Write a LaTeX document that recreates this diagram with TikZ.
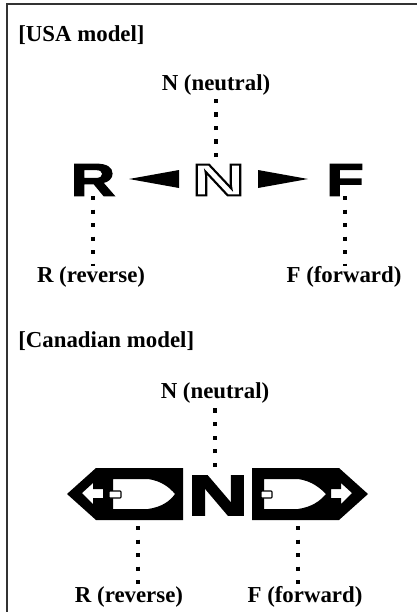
\documentclass[tikz,border=0pt]{standalone}
\usepackage{fontspec}
\setmainfont{Liberation Serif}
\newfontfamily\heavyfont[FakeBold=3,FakeStretch=1.35]{Liberation Sans Bold}
\newfontfamily\widefont[FakeBold=4,FakeStretch=1.5]{Liberation Sans Bold}
\newfontfamily\outlinefont[FakeStretch=1.65]{Liberation Sans Bold}
\tikzset{
  caption/.style={font=\fontsize{13}{15}\selectfont\bfseries,inner sep=0pt},
  heading/.style={caption,anchor=west},
  heavy/.style={font=\fontsize{26}{26}\selectfont\heavyfont,inner sep=0pt},
  dotline/.style={line width=2.1pt,dash pattern=on 2.4pt off 5.3pt},
  boxline/.style={line width=0.8pt,draw=black!80}
}
\begin{document}
\begin{tikzpicture}[x=0.02cm,y=-0.02cm]
    \useasboundingbox (0,0) rectangle (417,612);
    \draw [boxline] (7,612) -- (7,4) -- (417,4);
    \node [heading] (usa) at (18,35) {[USA model]};
    \node [caption] (nu) at (216,85) {N (neutral)};
    \node [caption] (ru) at (91,277) {R (reverse)};
    \node [caption] (fu) at (344,277) {F (forward)};
    \node [heavy] (r) at (93,180) {R};
    \node [heavy] (f) at (345,180) {F};
    \node [font=\fontsize{25.5}{25.5}\selectfont\outlinefont,inner sep=0pt] (n) at (218.5,180)
      {\color{white}\special{pdf:code 2 Tr 1.2 w 0 G}N\special{pdf:code 0 Tr}};
    \fill (179,170) -- (129,179) -- (179,188) -- cycle;
    \fill (258,170) -- (308,179) -- (258,188) -- cycle;
    \draw [dotline] (nu |- n.north) ++(0,-7) -- (nu);
    \draw [dotline] (r.south) -- (r.south |- ru.north);
    \draw [dotline] (f.south) -- (f.south |- fu.north);
    \node [heading] (can) at (18,341) {[Canadian model]};
    \node [caption] (nc) at (215,393) {N (neutral)};
    \node [caption] (rc) at (129,597) {R (reverse)};
    \node [caption] (fc) at (305,597) {F (forward)};
    \node [font=\fontsize{32}{32}\selectfont\widefont,inner sep=0pt] (m) at (218,495.5) {N};
    \coordinate (rp) at (138,526);
    \coordinate (fp) at (298,526);
    \fill [even odd rule] (67,494) -- (96,468) -- (183,468) -- (183,520) -- (96,520) -- cycle
      (113,479) -- (148,479) .. controls (162,481) and (170,488) .. (175,494)
      .. controls (170,501) and (162,507) .. (148,509) -- (113,509) -- cycle
      (82,493) -- (93,483) -- (93,489) -- (103,489) -- (103,498) -- (93,498) -- (93,504) -- cycle;
    \fill [even odd rule] (368,494) -- (339,468) -- (252,468) -- (252,520) -- (339,520) -- cycle
      (264,479) -- (298,479) .. controls (312,481) and (320,488) .. (326,494)
      .. controls (320,501) and (312,507) .. (298,509) -- (264,509) -- cycle
      (352,493) -- (341,483) -- (341,489) -- (331,489) -- (331,498) -- (341,498) -- (341,504) -- cycle;
    \draw [fill=white,line width=0.6pt,rounded corners=0.5pt] (109,491) rectangle (121,498);
    \draw [fill=white,line width=0.6pt,rounded corners=0.5pt] (261,491) rectangle (272,498);
    \draw [dotline] (m.north -| nc) ++(0,-9) -- (nc);
    \draw [dotline] (rp) -- (rp |- rc.north);
    \draw [dotline] (fp) -- (fp |- fc.north);
\end{tikzpicture}
\end{document}
